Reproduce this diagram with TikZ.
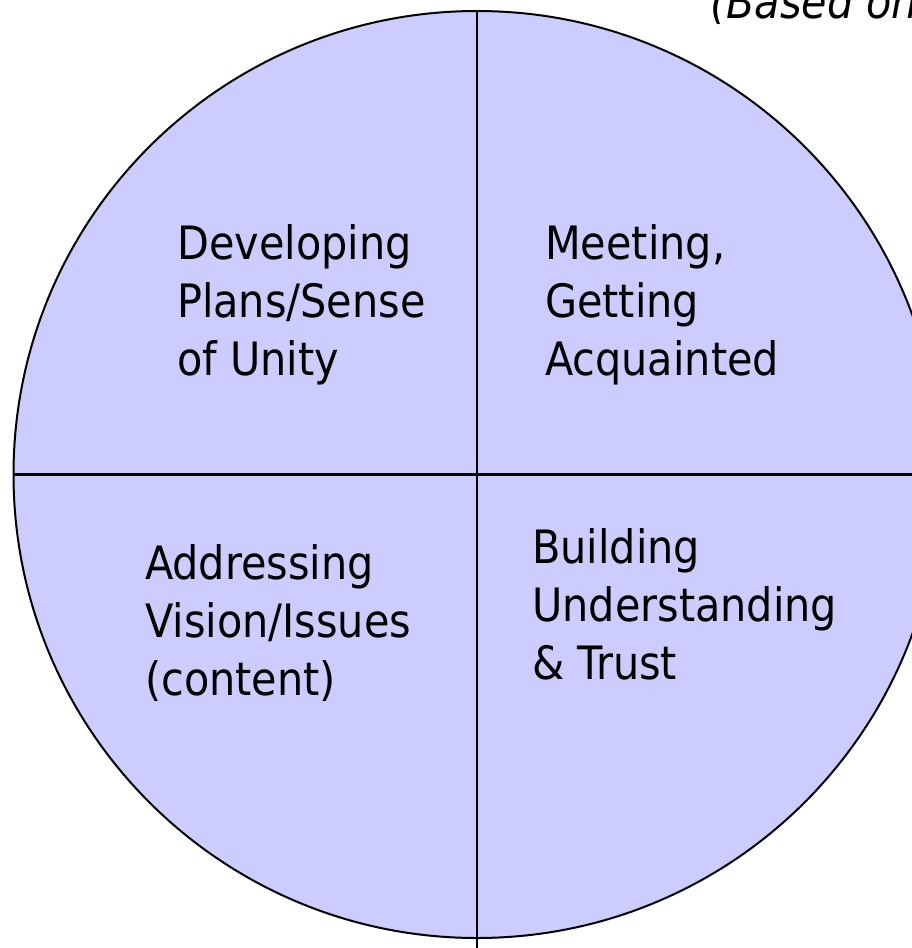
\documentclass[tikz,border=0pt]{standalone}
\usepackage{fontspec}
\setmainfont{DejaVu Sans Condensed}
\definecolor{quadfill}{RGB}{204,204,255}
\begin{document}
\begin{tikzpicture}[x=1pt,y=-1pt,
  lbl/.style={anchor=base west,inner sep=0pt,font=\fontsize{46}{58}\selectfont},
  divider/.style={line width=2.4pt,black},
  rim/.style={line width=2pt,black}]
\useasboundingbox (0,0) rectangle (912,948);
\clip (0,0) rectangle (912,948);
\coordinate (c) at (477,474.5);
\fill[quadfill] (c) circle[radius=463.5];
\draw[rim] (c) circle[radius=463.5];
\coordinate (vt) at (477,11);
\coordinate (vb) at (477,948);
\coordinate (hl) at (13.5,474.5);
\coordinate (hr) at (912,474.5);
\draw[divider] (vt) -- (vb);
\draw[divider] (hl) -- (hr);
\node[lbl] (d1) at (177,259) {Developing};
\node[lbl] (d2) at (177,317) {Plans/Sense};
\node[lbl] (d3) at (177,375) {of Unity};
\node[lbl] (m1) at (545,259) {Meeting,};
\node[lbl] (m2) at (545,317) {Getting};
\node[lbl] (m3) at (545,375) {Acquainted};
\node[lbl] (a1) at (145,579) {Addressing};
\node[lbl] (a2) at (145,637) {Vision/Issues};
\node[lbl] (a3) at (145,695) {(content)};
\node[lbl] (b1) at (532,563) {Building};
\node[lbl] (b2) at (532,621) {Understanding};
\node[lbl] (b3) at (532,679) {\& Trust};
\node[lbl,font=\fontsize{46}{58}\selectfont\itshape] (based) at (710,18) {(Based on};
\end{tikzpicture}
\end{document}
